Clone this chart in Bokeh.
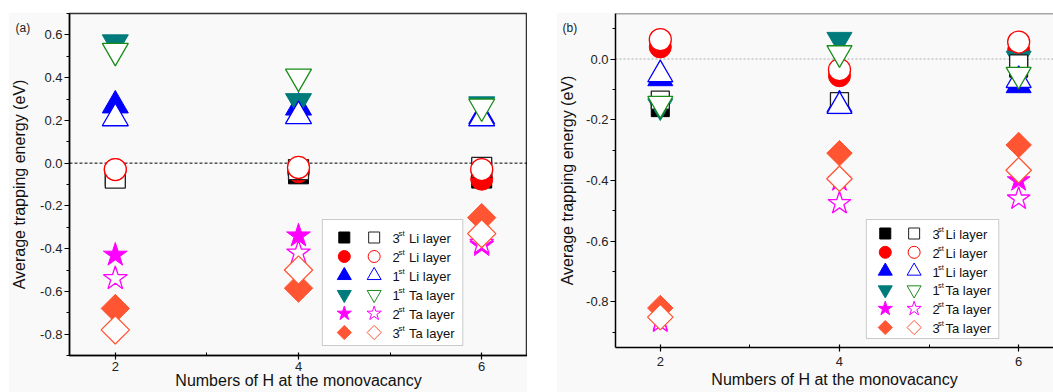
import numpy as np
from bokeh.plotting import figure
from bokeh.models import (Span, BoxAnnotation, FixedTicker, Spacer, Range1d,
                          PrintfTickFormatter, Title)
from bokeh.layouts import row, column
from bokeh.embed import file_html
from bokeh.resources import INLINE
from bokeh.core.properties import value

# ---------------- data ----------------
n_h = [2, 4, 6]
x_major = [2, 4, 6]
x_minor = [3, 5]

a_y_major = [-0.8, -0.6, -0.4, -0.2, 0.0, 0.2, 0.4, 0.6]
a_y_minor = [-0.9, -0.7, -0.5, -0.3, -0.1, 0.1, 0.3, 0.5, 0.7]
b_y_major = [-0.8, -0.6, -0.4, -0.2, 0.0]
b_y_minor = [-0.9, -0.7, -0.5, -0.3, -0.1, 0.1]

# panel (a): filled / open values for each layer
a_li3_f = [-0.06, -0.05, -0.07]
a_li3_o = [-0.07, -0.03, -0.02]
a_li2_f = [-0.03, -0.04, -0.075]
a_li2_o = [-0.03, -0.02, -0.03]
a_li1_f = [0.27, 0.26, 0.22]
a_li1_o = [0.21, 0.22, 0.21]
a_ta1_f = [0.565, 0.29, 0.275]
a_ta1_o = [0.525, 0.405, 0.265]
a_ta2_f = [-0.43, -0.34, -0.385]
a_ta2_o = [-0.54, -0.42, -0.375]
a_ta3_f = [-0.68, -0.585, -0.255]
a_ta3_o = [-0.78, -0.50, -0.33]

# panel (b)
b_li3_f = [-0.16, -0.15, -0.03]
b_li3_o = [-0.135, -0.14, -0.016]
b_li2_f = [0.04, -0.055, 0.03]
b_li2_o = [0.064, -0.035, 0.056]
b_li1_f = [-0.064, -0.15, -0.087]
b_li1_o = [-0.051, -0.155, -0.07]
b_ta1_f = [-0.155, 0.064, 0.002]
b_ta1_o = [-0.147, 0.02, -0.051]
b_ta2_f = [-0.86, -0.40, -0.40]
b_ta2_o = [-0.865, -0.475, -0.46]
b_ta3_f = [-0.82, -0.31, -0.283]
b_ta3_o = [-0.85, -0.394, -0.366]

legend_nums = ["3", "2", "1", "1", "2", "3"]
legend_sups = ["st", "st", "st", "st", "st", "st"]
legend_names = ["Li layer", "Li layer", "Li layer", "Ta layer", "Ta layer", "Ta layer"]

x_title = "Numbers of H at the monovacancy"
y_title = "Average trapping energy (eV)"

# ---------------- styles ----------------
BG = "#f9f9f9"
FONT = "Liberation Sans"
# marker, filled colour, open colour, angle
specs = [
    ("square", "#000000", "#222222", 0.0),
    ("circle", "#ff0000", "#ff0000", 0.0),
    ("triangle", "#0000ff", "#0000ff", 0.0),
    ("inverted_triangle", "#007b7b", "#1a8c1a", 0.0),
    ("star", "#ff00ff", "#ff00ff", 0.0),
    ("square", "#ff5533", "#ff5533", np.pi / 4),
]
a_sizes = [20, 22, 26, 26, 25, 20]
b_sizes = [18, 22, 25, 25, 24, 18]
leg_sizes = [11, 12, 14, 14, 15, 10]


def make_fig(width, xr, yr, left, bottom, xlabel_standoff):
    p = figure(width=width, height=380, x_range=Range1d(*xr), y_range=Range1d(*yr),
               output_backend="svg", toolbar_location=None,
               min_border_left=left, min_border_right=0, min_border_top=1,
               min_border_bottom=bottom)
    p.background_fill_color = BG
    p.border_fill_color = BG
    p.xgrid.visible = False
    p.ygrid.visible = False
    p.outline_line_color = None
    for ax in (p.xaxis[0], p.yaxis[0]):
        ax.axis_line_color = "black"
        ax.axis_line_width = 1.5
        ax.major_tick_line_color = "black"
        ax.major_tick_line_width = 1.2
        ax.minor_tick_line_color = "black"
        ax.minor_tick_line_width = 1
        ax.major_label_text_font = FONT
        ax.major_label_text_font_size = "13px"
        ax.major_label_text_color = "#222222"
        ax.axis_label_text_font = FONT
        ax.axis_label_text_font_size = "16px"
        ax.axis_label_text_font_style = "normal"
        ax.axis_label_text_color = "#111111"
    p.xaxis.ticker = FixedTicker(ticks=x_major, minor_ticks=x_minor)
    p.xaxis.formatter = PrintfTickFormatter(format="%d")
    p.xaxis.major_tick_in = 3
    p.xaxis.major_tick_out = 4
    p.xaxis.minor_tick_in = 3
    p.xaxis.minor_tick_out = 0
    p.xaxis.major_label_standoff = xlabel_standoff
    p.yaxis.major_tick_in = 0
    p.yaxis.major_tick_out = 5
    p.yaxis.minor_tick_in = 0
    p.yaxis.minor_tick_out = 3
    p.yaxis.major_label_standoff = 2
    p.yaxis.formatter = PrintfTickFormatter(format="%.1f")
    p.yaxis.axis_label = y_title
    return p


def add_titles(p, tag, tag_offset, xt_standoff):
    p.title.text = tag
    p.title.align = "left"
    p.title.offset = tag_offset
    p.title.standoff = -43
    p.title.text_font = FONT
    p.title.text_font_size = "12px"
    p.title.text_font_style = "normal"
    p.title.text_color = "#222222"
    p.add_layout(Title(text=x_title, align="center", vertical_align="bottom",
                       standoff=xt_standoff, text_font=FONT, text_font_size="16px",
                       text_font_style="normal", text_color="#111111"), "below")


def plot_data(p, filled, opened, sizes):
    for (m, cf, co, ang), vals, s in zip(specs, filled, sizes):
        p.scatter(x=n_h, y=vals, marker=m, size=s, angle=ang,
                  fill_color=cf, line_color=cf, line_width=1)
    for (m, cf, co, ang), vals, s in zip(specs, opened, sizes):
        p.scatter(x=n_h, y=vals, marker=m, size=s, angle=ang,
                  fill_color="white", line_color=co, line_width=1.3)


def draw_legend(p, to_data, box, y0, dy, xf, xo, xt, sup_dx, name_dx, sup_size):
    l, r, t, b = box
    lx, ty = to_data(l, t)
    rx, by = to_data(r, b)
    p.add_layout(BoxAnnotation(left=lx, right=rx, top=ty, bottom=by,
                               fill_color="white", fill_alpha=1,
                               line_color="#555555", line_width=1, level="underlay"))
    for i, ((m, cf, co, ang), s) in enumerate(zip(specs, leg_sizes)):
        Y = y0 + i * dy
        fx, fy = to_data(xf, Y)
        ox, oy = to_data(xo, Y)
        p.scatter(x=[fx], y=[fy], marker=m, size=s, angle=ang,
                  fill_color=cf, line_color=cf)
        p.scatter(x=[ox], y=[oy], marker=m, size=s, angle=ang,
                  fill_color="white", line_color=co, line_width=1)
        tx, ty2 = to_data(xt, Y + 1)
        p.text(x=[tx], y=[ty2], text=[legend_nums[i]], text_font=value(FONT),
               text_font_size="13px", text_baseline="middle", text_align="left",
               text_color="#111111")
        sx, sy = to_data(xt + sup_dx, Y - 4)
        p.text(x=[sx], y=[sy], text=[legend_sups[i]], text_font=value(FONT),
               text_font_size=sup_size, text_baseline="middle", text_align="left",
               text_color="#111111")
        nx, ny = to_data(xt + name_dx, Y + 1)
        p.text(x=[nx], y=[ny], text=[legend_names[i]], text_font=value(FONT),
               text_font_size="13px", text_baseline="middle", text_align="left",
               text_color="#111111")


# ---------------- panel (a) ----------------
A_XR = (1.5, 6.5)
A_YR = (-0.9, 0.7)
A_F = (67, 527, 13, 355)   # frame pixel box on the page


def a_px(X, Y):
    x0, x1, y0, y1 = A_F
    return (A_XR[0] + (X - x0) * (A_XR[1] - A_XR[0]) / (x1 - x0),
            A_YR[1] - (Y - y0) * (A_YR[1] - A_YR[0]) / (y1 - y0))


p1 = make_fig(519, A_XR, A_YR, 59, 37, 2)
p1.yaxis.ticker = FixedTicker(ticks=a_y_major, minor_ticks=a_y_minor)
p1.yaxis.axis_label_standoff = 9
p1.outline_line_color = "#333333"
p1.outline_line_width = 1.5
add_titles(p1, "(a)", -54, -8)
p1.add_layout(Span(location=0, dimension="width", line_color="black",
                   line_dash="3 2", line_width=1, level="underlay"))
plot_data(p1,
          [a_li3_f, a_li2_f, a_li1_f, a_ta1_f, a_ta2_f, a_ta3_f],
          [a_li3_o, a_li2_o, a_li1_o, a_ta1_o, a_ta2_o, a_ta3_o], a_sizes)
draw_legend(p1, a_px, (321, 462, 219, 345), 237, 19, 343, 373, 391.5, 6.0, 16.5, "8px")

# ---------------- panel (b) ----------------
B_XR = (1.5, 1.5 + 440 / 90)
B_YR = (-0.95, 0.15)
B_F = (613, 1053, 13, 347)


def b_px(X, Y):
    x0, x1, y0, y1 = B_F
    return (B_XR[0] + (X - x0) * (B_XR[1] - B_XR[0]) / (x1 - x0),
            B_YR[1] - (Y - y0) * (B_YR[1] - B_YR[0]) / (y1 - y0))


p2 = make_fig(497, B_XR, B_YR, 57, 45, 5)
p2.yaxis.ticker = FixedTicker(ticks=b_y_major, minor_ticks=b_y_minor)
p2.yaxis.axis_label_standoff = 7
add_titles(p2, "(b)", -53, 0)
p2.add_layout(Span(location=B_YR[1], dimension="width", line_color="#555555",
                   line_width=1.5))
p2.add_layout(Span(location=0, dimension="width", line_color="#aaaaaa",
                   line_dash="2 2", line_width=1, level="underlay"))
plot_data(p2,
          [b_li3_f, b_li2_f, b_li1_f, b_ta1_f, b_ta2_f, b_ta3_f],
          [b_li3_o, b_li2_o, b_li1_o, b_ta1_o, b_ta2_o, b_ta3_o], b_sizes)
draw_legend(p2, b_px, (865, 998, 219, 338), 233, 18.8, 884, 913, 931.5, 5.5, 13.0, "7.5px")

layout = column(Spacer(width=1053, height=12),
                row(Spacer(width=8, height=380), column(p1),
                    Spacer(width=29, height=380), column(p2)))

open("out.html", "w").write(file_html(layout, INLINE))
